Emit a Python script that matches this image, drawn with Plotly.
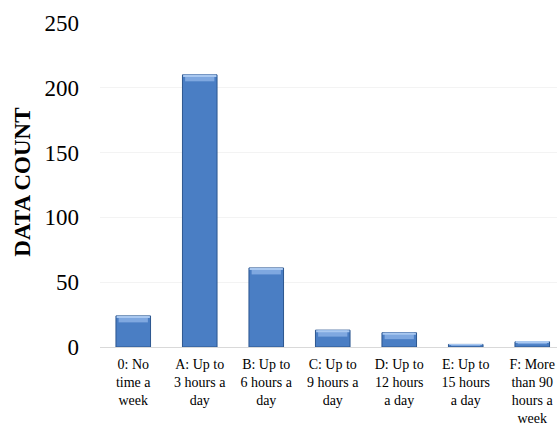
import plotly.graph_objects as go

# Survey responses: time spent per period
categories = [
    "0: No<br>time a<br>week",
    "A: Up to<br>3 hours a<br>day",
    "B: Up to<br>6 hours a<br>day",
    "C: Up to<br>9 hours a<br>day",
    "D: Up to<br>12 hours<br>a day",
    "E: Up to<br>15 hours<br>a day",
    "F: More<br>than 90<br>hours a<br>week",
]
counts = [24, 210, 61, 13, 11, 2, 4]
y_ticks = [0, 50, 100, 150, 200, 250]

SERIF = "Liberation Serif, Times New Roman, serif"

W, H = 557, 426
ML, MR, MT, MB = 100, 0, 23, 79
cat_px = 66.5
plot_w = W - ML - MR
x_max = -0.5 + plot_w / cat_px

# lighter top band giving each bar a bevelled look
bevel = [min(5.0, v * 0.45) for v in counts]
bevel_base = [v - b for v, b in zip(counts, bevel)]
# thin highlight along the very top of each bar
shine = [min(1.6, v * 0.2) for v in counts]
shine_base = [v - s for v, s in zip(counts, shine)]

fig = go.Figure()
fig.add_trace(go.Bar(
    x=list(range(len(categories))), y=counts, width=0.52,
    marker=dict(color="#4A7EC4", line=dict(color="#2C568F", width=1)),
    hoverinfo="y", showlegend=False,
))
fig.add_trace(go.Bar(
    x=list(range(len(categories))), y=bevel, base=bevel_base, width=0.44,
    marker=dict(color="#7FA8E0", line=dict(width=0)),
    hoverinfo="skip", showlegend=False,
))
fig.add_trace(go.Bar(
    x=list(range(len(categories))), y=shine, base=shine_base, width=0.50,
    marker=dict(color="#A9C8F0", line=dict(width=0)),
    hoverinfo="skip", showlegend=False,
))

fig.update_layout(
    width=W, height=H,
    margin=dict(l=ML, r=MR, t=MT, b=MB),
    barmode="overlay",
    paper_bgcolor="white", plot_bgcolor="white",
    font=dict(family=SERIF, color="black"),
    xaxis=dict(
        range=[-0.5, x_max],
        tickmode="array", tickvals=list(range(len(categories))), ticktext=categories,
        tickfont=dict(family=SERIF, size=14, color="black"),
        showgrid=False, zeroline=False,
        showline=True, linecolor="#D9D9D9", linewidth=1,
        ticks="", ticklabelstandoff=4,
    ),
    yaxis=dict(
        range=[0, 250],
        tickmode="array", tickvals=y_ticks,
        tickfont=dict(family=SERIF, size=23, color="black"),
        showgrid=True, gridcolor="#F3F3F3", gridwidth=1,
        zeroline=False, showline=False,
        ticks="", ticklabelstandoff=20,
    ),
    annotations=[dict(
        text="<b>DATA COUNT</b>", textangle=-90,
        xref="paper", yref="paper",
        x=(23 - ML) / plot_w, y=0.507,
        xanchor="center", yanchor="middle",
        showarrow=False,
        font=dict(family=SERIF, size=23, color="black"),
    )],
)

fig.write_html("out.html")
